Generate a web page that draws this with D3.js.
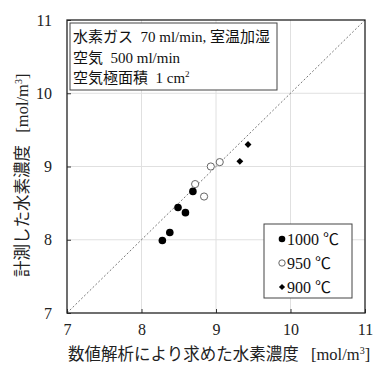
<!DOCTYPE html>
<html lang="ja">
<head>
  <meta charset="utf-8" />
  <style>
    body { margin: 0; background: #fff; }
    .jp { font-family: "Liberation Serif", "Noto Sans CJK JP", serif; }
    .num { font-family: "Liberation Serif", serif; }
  </style>
  <script src="https://d3js.org/d3.v7.min.js"></script>
</head>
<body>
  <svg width="377" height="365"></svg>
  <script>
    // series data: [calculated, measured]
    const s1000 = [[8.28, 7.99], [8.38, 8.10], [8.49, 8.44], [8.59, 8.37], [8.69, 8.66]];
    const s950 = [[8.72, 8.76], [8.84, 8.59], [8.93, 9.00], [9.05, 9.06]];
    const s900 = [[9.32, 9.07], [9.43, 9.30]];
    const ticks = [7, 8, 9, 10, 11];
    const legendLabels = ["1000 \u2103", "950 \u2103", "900 \u2103"];
    const noteLines = ["水素ガス  70 ml/min, 室温加湿", "空気  500 ml/min", "空気極面積  1 cm"];

    const svg = d3.select("svg");
    const pLeft = 67, pRight = 365, pTop = 20, pBottom = 313;

    const x = d3.scaleLinear().domain([7, 11]).range([pLeft, pRight]);
    const y = d3.scaleLinear().domain([7, 11]).range([pBottom, pTop]);

    // grid
    const grid = svg.append("g").attr("stroke", "#e0e0e0").attr("stroke-width", 1);
    grid.selectAll(".gx").data(ticks.slice(1, -1)).join("line")
      .attr("x1", d => x(d)).attr("x2", d => x(d)).attr("y1", pTop).attr("y2", pBottom);
    grid.selectAll(".gy").data(ticks.slice(1, -1)).join("line")
      .attr("y1", d => y(d)).attr("y2", d => y(d)).attr("x1", pLeft).attr("x2", pRight);

    // 1:1 line
    svg.append("line")
      .attr("x1", x(7)).attr("y1", y(7)).attr("x2", x(11)).attr("y2", y(11))
      .attr("stroke", "#777").attr("stroke-width", 1).attr("stroke-dasharray", "2,2");

    // axes with inward ticks
    const xAxis = svg.append("g").attr("transform", `translate(0,${pBottom})`)
      .call(d3.axisBottom(x).tickValues(ticks).tickSize(-4).tickPadding(11).tickFormat(d3.format("d")));
    const yAxis = svg.append("g").attr("transform", `translate(${pLeft},0)`)
      .call(d3.axisLeft(y).tickValues(ticks).tickSize(-4).tickPadding(15).tickFormat(d3.format("d")));
    [xAxis, yAxis].forEach(a => {
      a.attr("font-family", null).attr("font-size", null);
      a.select(".domain").remove();
      a.selectAll("line").attr("stroke", "#333");
      a.selectAll("text").attr("class", "num").style("font-size", "16px").attr("fill", "#222");
    });

    // frame
    svg.append("rect").attr("x", pLeft).attr("y", pTop).attr("width", pRight - pLeft).attr("height", pBottom - pTop)
      .attr("fill", "none").attr("stroke", "#222").attr("stroke-width", 1.3);

    // note box
    svg.append("rect").attr("x", 70).attr("y", 23).attr("width", 207).attr("height", 67)
      .attr("fill", "#fff").attr("stroke", "#444").attr("stroke-width", 1);
    const note = svg.append("g").attr("class", "jp").style("font-size", "15px").attr("fill", "#111");
    noteLines.forEach((t, i) => {
      const tx = note.append("text").attr("x", 73).attr("y", 42 + i * 20.5).attr("xml:space", "preserve").text(t);
      if (i === 2) tx.append("tspan").style("font-size", "9px").attr("dy", -6).text("2");
    });

    // points
    const pts = svg.append("g");
    pts.selectAll(".p1000").data(s1000).join("circle")
      .attr("cx", d => x(d[0])).attr("cy", d => y(d[1])).attr("r", 3.8).attr("fill", "#000");
    pts.selectAll(".p950").data(s950).join("circle")
      .attr("cx", d => x(d[0])).attr("cy", d => y(d[1])).attr("r", 3.6)
      .attr("fill", "#fff").attr("stroke", "#666").attr("stroke-width", 1);
    const diamond = d3.symbol().type(d3.symbolDiamond2).size(30);
    pts.selectAll(".p900").data(s900).join("path")
      .attr("transform", d => `translate(${x(d[0])},${y(d[1])})`).attr("d", diamond).attr("fill", "#000");

    // legend
    svg.append("rect").attr("x", 264).attr("y", 224).attr("width", 88).attr("height", 74)
      .attr("fill", "#fff").attr("stroke", "#444").attr("stroke-width", 1);
    const leg = svg.append("g");
    legendLabels.forEach((t, i) => {
      const ly = 239 + i * 24;
      if (i === 0) leg.append("circle").attr("cx", 282).attr("cy", ly).attr("r", 3.3).attr("fill", "#000");
      if (i === 1) leg.append("circle").attr("cx", 282).attr("cy", ly).attr("r", 3.2).attr("fill", "#fff").attr("stroke", "#666");
      if (i === 2) leg.append("path").attr("transform", `translate(282,${ly})`).attr("d", d3.symbol().type(d3.symbolDiamond2).size(24)).attr("fill", "#000");
      leg.append("text").attr("class", "jp").attr("x", 287).attr("y", ly + 5.5)
        .style("font-size", "16px").attr("fill", "#111").text(t);
    });

    // axis titles
    const xt = svg.append("text").attr("class", "jp").attr("x", 68).attr("y", 360)
      .style("font-size", "16.5px").attr("fill", "#222").attr("xml:space", "preserve");
    xt.append("tspan").text("数値解析により求めた水素濃度   [mol/m");
    xt.append("tspan").style("font-size", "10px").attr("dy", -6).text("3");
    xt.append("tspan").attr("dy", 6).text("]");

    const yt = svg.append("text").attr("class", "jp").attr("xml:space", "preserve")
      .attr("transform", "translate(28,277) rotate(-90)").style("font-size", "16.5px").attr("fill", "#222");
    yt.append("tspan").text("計測した水素濃度   [mol/m");
    yt.append("tspan").style("font-size", "10px").attr("dy", -6).text("3");
    yt.append("tspan").attr("dy", 6).text("]");
  </script>
</body>
</html>
